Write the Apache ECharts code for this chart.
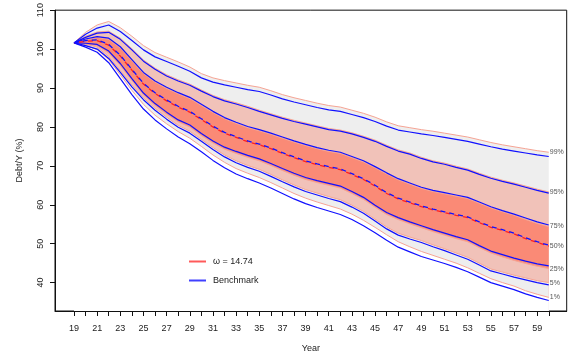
<!DOCTYPE html>
<html>
<head>
<meta charset="utf-8">
<script src="https://cdn.jsdelivr.net/npm/echarts@6/dist/echarts.min.js"></script>
<style>
  html, body { margin: 0; padding: 0; background: #fff; }
  #chart { width: 571px; height: 358px; }
</style>
</head>
<body>
<div id="chart"></div>
<script>
// Simulated debt-to-output paths: percentile fan (ω = 14.74) against the benchmark.
const years = [19,20,21,22,23,24,25,26,27,28,29,30,31,32,33,34,35,36,37,38,39,40,
               41,42,43,44,45,46,47,48,49,50,51,52,53,54,55,56,57,58,59,60];

// ω = 14.74 percentiles (Debt/Y, %)
const omega99 = [101.6,104.3,106.2,107.1,105.5,103.3,100.9,99.1,97.9,96.7,95.4,93.7,92.6,91.9,91.3,90.7,90.2,89.3,88.3,87.5,86.8,86.1,
                 85.5,85.1,84.3,83.5,82.5,81.3,80.3,79.8,79.3,78.9,78.4,77.9,77.4,76.7,76.0,75.4,74.9,74.4,73.9,73.5];
const omega95 = [101.6,103.3,104.4,104.6,102.8,100.1,97.2,95.1,93.4,92.1,91.0,89.5,88.1,87.0,86.2,85.3,84.3,83.4,82.5,81.7,81.0,80.3,
                 79.6,79.2,78.5,77.6,76.6,75.3,74.1,73.3,72.2,71.3,70.7,69.9,69.2,68.1,67.1,66.3,65.6,64.8,64.0,63.3];
const omega75 = [101.6,102.4,103.0,102.5,100.3,97.0,93.7,91.5,89.9,88.5,87.3,85.5,83.7,82.1,80.9,79.8,79.0,78.1,77.1,76.1,75.2,74.4,
                 73.7,73.2,72.1,71.0,69.5,67.9,66.4,65.3,64.2,63.4,62.8,62.2,61.6,60.4,59.2,58.2,57.3,56.2,55.2,54.4];
const omega50 = [101.6,102.0,102.2,101.0,98.2,94.6,91.0,88.6,86.7,85.1,83.8,81.9,80.0,78.4,77.3,76.2,75.4,74.4,73.2,72.1,71.1,70.3,
                 69.6,69.0,67.8,66.5,64.8,62.9,61.5,60.5,59.5,58.7,58.0,57.3,56.7,55.4,54.2,53.4,52.5,51.3,50.3,49.4];
const omega25 = [101.6,101.2,100.8,99.0,95.8,91.9,88.2,85.5,83.3,81.3,80.0,77.8,75.9,74.3,73.2,72.2,71.3,70.1,68.8,67.6,66.5,65.7,
                 65.0,64.3,62.9,61.4,59.4,57.5,56.2,55.1,54.1,53.1,52.2,51.3,50.5,49.0,47.6,46.6,45.7,44.9,44.2,43.6];
const omega05 = [101.6,101.3,100.5,98.1,94.5,90.8,87.5,84.8,82.5,80.4,78.9,76.8,74.7,72.8,71.3,70.1,69.1,67.8,66.4,65.1,63.9,63.0,
                 62.1,61.3,59.9,58.3,56.3,54.3,52.7,51.7,50.8,49.7,48.7,47.6,46.5,45.0,43.5,42.7,41.9,41.2,40.5,40.0];
const omega01 = [101.6,100.9,99.9,97.3,93.4,89.4,85.8,83.0,80.8,78.8,77.1,75.0,72.8,70.9,69.3,68.1,67.0,65.7,64.3,62.9,61.7,60.7,
                 59.8,58.9,57.6,56.0,54.2,52.3,50.5,49.2,48.0,47.0,46.0,45.0,43.8,42.4,41.0,40.0,39.1,37.9,37.0,36.2];

// Benchmark percentiles (Debt/Y, %)
const bench99 = [101.6,103.8,105.4,106.2,104.5,102.2,99.8,98.0,96.8,95.6,94.3,92.6,91.5,90.8,90.2,89.6,89.1,88.2,87.2,86.4,85.7,85.0,
                 84.4,84.0,83.2,82.4,81.4,80.2,79.2,78.7,78.2,77.8,77.3,76.8,76.3,75.6,74.9,74.3,73.8,73.3,72.8,72.4];
const bench95 = [101.6,103.0,104.1,104.3,102.5,99.8,96.9,94.8,93.1,91.8,90.7,89.2,87.8,86.7,85.9,85.0,84.0,83.1,82.2,81.4,80.7,80.0,
                 79.3,78.9,78.2,77.3,76.3,75.0,73.8,73.0,71.9,71.0,70.4,69.6,68.9,67.8,66.8,66.0,65.3,64.5,63.7,63.0];
const bench75 = [101.6,102.6,103.2,102.8,100.6,97.3,94.0,91.8,90.2,88.8,87.6,85.8,84.0,82.4,81.2,80.1,79.3,78.4,77.4,76.4,75.5,74.7,
                 74.0,73.5,72.4,71.3,69.8,68.2,66.7,65.6,64.5,63.7,63.1,62.5,61.9,60.7,59.5,58.5,57.6,56.6,55.6,54.8];
const bench50 = [101.6,102.2,102.4,101.2,98.4,94.8,91.2,88.8,86.9,85.3,84.0,82.1,80.2,78.6,77.5,76.4,75.6,74.6,73.4,72.3,71.3,70.5,
                 69.8,69.2,68.0,66.7,65.0,63.1,61.7,60.7,59.7,58.9,58.2,57.5,56.9,55.6,54.4,53.6,52.7,51.5,50.5,49.6];
const bench25 = [101.6,101.5,101.2,99.5,96.3,92.4,88.7,86.0,83.8,81.8,80.5,78.3,76.4,74.8,73.7,72.7,71.8,70.6,69.3,68.1,67.0,66.2,
                 65.5,64.8,63.4,61.9,59.9,58.0,56.7,55.6,54.6,53.6,52.7,51.8,51.0,49.5,48.1,47.2,46.3,45.5,44.8,44.3];
const bench05 = [101.6,100.9,100.0,97.6,94.0,90.3,87.0,84.3,82.0,79.9,78.4,76.3,74.2,72.3,70.8,69.6,68.6,67.3,65.9,64.6,63.4,62.5,
                 61.6,60.8,59.4,57.8,55.8,53.8,52.2,51.2,50.3,49.2,48.2,47.1,46.0,44.5,43.0,42.2,41.4,40.7,40.0,39.4];
const bench01 = [101.6,100.5,99.2,96.5,92.4,88.3,84.6,81.8,79.5,77.4,75.7,73.6,71.4,69.5,67.9,66.7,65.6,64.3,62.9,61.5,60.3,59.3,
                 58.4,57.5,56.2,54.6,52.8,50.9,49.1,47.9,46.7,45.8,44.9,43.9,42.8,41.4,40.0,39.1,38.2,37.1,36.2,35.4];

const yearTicks = years;
const yearLabels = [19,21,23,25,27,29,31,33,35,37,39,41,43,45,47,49,51,53,55,57,59];
const debtTicks = [40,50,60,70,80,90,100,110];

const legendOmega = 'ω = 14.74';
const legendBench = 'Benchmark';

const GRAY = '#eeeeee', PINK = '#f1c2b9', SALMON = '#fa8a76';
const EDGE = '#f6a494', RED = '#ff2020', BLUE = '#1010ff';
const FONT = 'Liberation Sans, Arial, sans-serif';

const pairs = (vals) => years.map((y, i) => [y, vals[i]]);

// Each fan band is an area filled down to the axis floor; painting from the
// highest percentile to the lowest leaves only the slice between neighbours.
function band(vals, color, z) {
  return {
    type: 'line', data: pairs(vals), showSymbol: false, silent: true, z,
    lineStyle: { width: 0, opacity: 0 },
    areaStyle: { color, opacity: 1, origin: 'start' }
  };
}

function edge(vals, label) {
  return {
    type: 'line', data: pairs(vals), showSymbol: false, silent: true, z: 2,
    lineStyle: { color: EDGE, width: 1 },
    endLabel: { show: true, formatter: label, fontSize: 7, color: '#555', distance: 1, fontFamily: FONT }
  };
}

function bench(vals) {
  return {
    type: 'line', data: pairs(vals), showSymbol: false, silent: true, z: 3,
    lineStyle: { color: BLUE, width: 1.2 }
  };
}

const series = [
  band(omega99, GRAY, 1),
  band(omega95, PINK, 1),
  band(omega75, SALMON, 1),
  band(omega25, PINK, 1),
  band(omega05, GRAY, 1),
  band(omega01, '#ffffff', 1),
  edge(omega99, '99%'), edge(omega95, '95%'), edge(omega75, '75%'),
  edge(omega25, '25%'), edge(omega05, '5%'), edge(omega01, '1%'),
  bench(bench99), bench(bench95), bench(bench75), bench(bench25), bench(bench05), bench(bench01),
  {
    name: legendOmega, type: 'line', data: pairs(omega50), showSymbol: false, silent: true, z: 4,
    lineStyle: { color: RED, width: 1.3, type: [5, 4], dashOffset: 4 },
    endLabel: { show: true, formatter: '50%', fontSize: 7, color: '#555', distance: 1, fontFamily: FONT }
  },
  {
    name: legendBench, type: 'line', data: pairs(bench50), showSymbol: false, silent: true, z: 5,
    lineStyle: { color: BLUE, width: 1.3, type: [5, 4] }
  }
];

const chart = echarts.init(document.getElementById('chart'), null, { renderer: 'canvas' });
chart.setOption({
  animation: false,
  backgroundColor: '#fff',
  textStyle: { fontFamily: FONT },
  grid: { left: 55, right: 4.3, top: 7.7, bottom: 45.3, show: true,
          borderColor: '#111', borderWidth: 1, backgroundColor: 'transparent' },
  legend: {
    left: 184, top: 252, orient: 'vertical', itemWidth: 17, itemHeight: 2, itemGap: 10,
    icon: 'rect', selectedMode: false,
    lineStyle: { width: 0 },
    textStyle: { fontSize: 9, color: '#222', padding: [0, 0, 0, 2] },
    data: [
      { name: legendOmega, icon: 'rect', itemStyle: { color: '#ff5a5a' }, lineStyle: { width: 0 } },
      { name: legendBench, icon: 'rect', itemStyle: { color: '#4040ff' }, lineStyle: { width: 0 } }
    ]
  },
  xAxis: {
    type: 'value', min: 17.36, max: 61.55, z: 10,
    name: 'Year', nameLocation: 'middle', nameGap: 33,
    nameTextStyle: { fontSize: 9, color: '#222' },
    axisLine: { show: true, lineStyle: { color: '#111', width: 1 } },
    axisTick: { show: true, customValues: yearTicks, length: 5, lineStyle: { color: '#111' } },
    axisLabel: { customValues: yearLabels, fontSize: 9, color: '#222', margin: 13 },
    splitLine: { show: false }
  },
  yAxis: {
    type: 'value', min: 32.7, max: 110, z: 10,
    name: 'Debt/Y (%)', nameLocation: 'middle', nameGap: 31,
    nameTextStyle: { fontSize: 9, color: '#222' },
    axisLine: { show: true, lineStyle: { color: '#111', width: 1 } },
    axisTick: { show: true, customValues: debtTicks, length: 5, lineStyle: { color: '#111' } },
    axisLabel: { customValues: debtTicks, fontSize: 9, color: '#222', rotate: 90, margin: 10 },
    splitLine: { show: false }
  },
  series
});
</script>
</body>
</html>
